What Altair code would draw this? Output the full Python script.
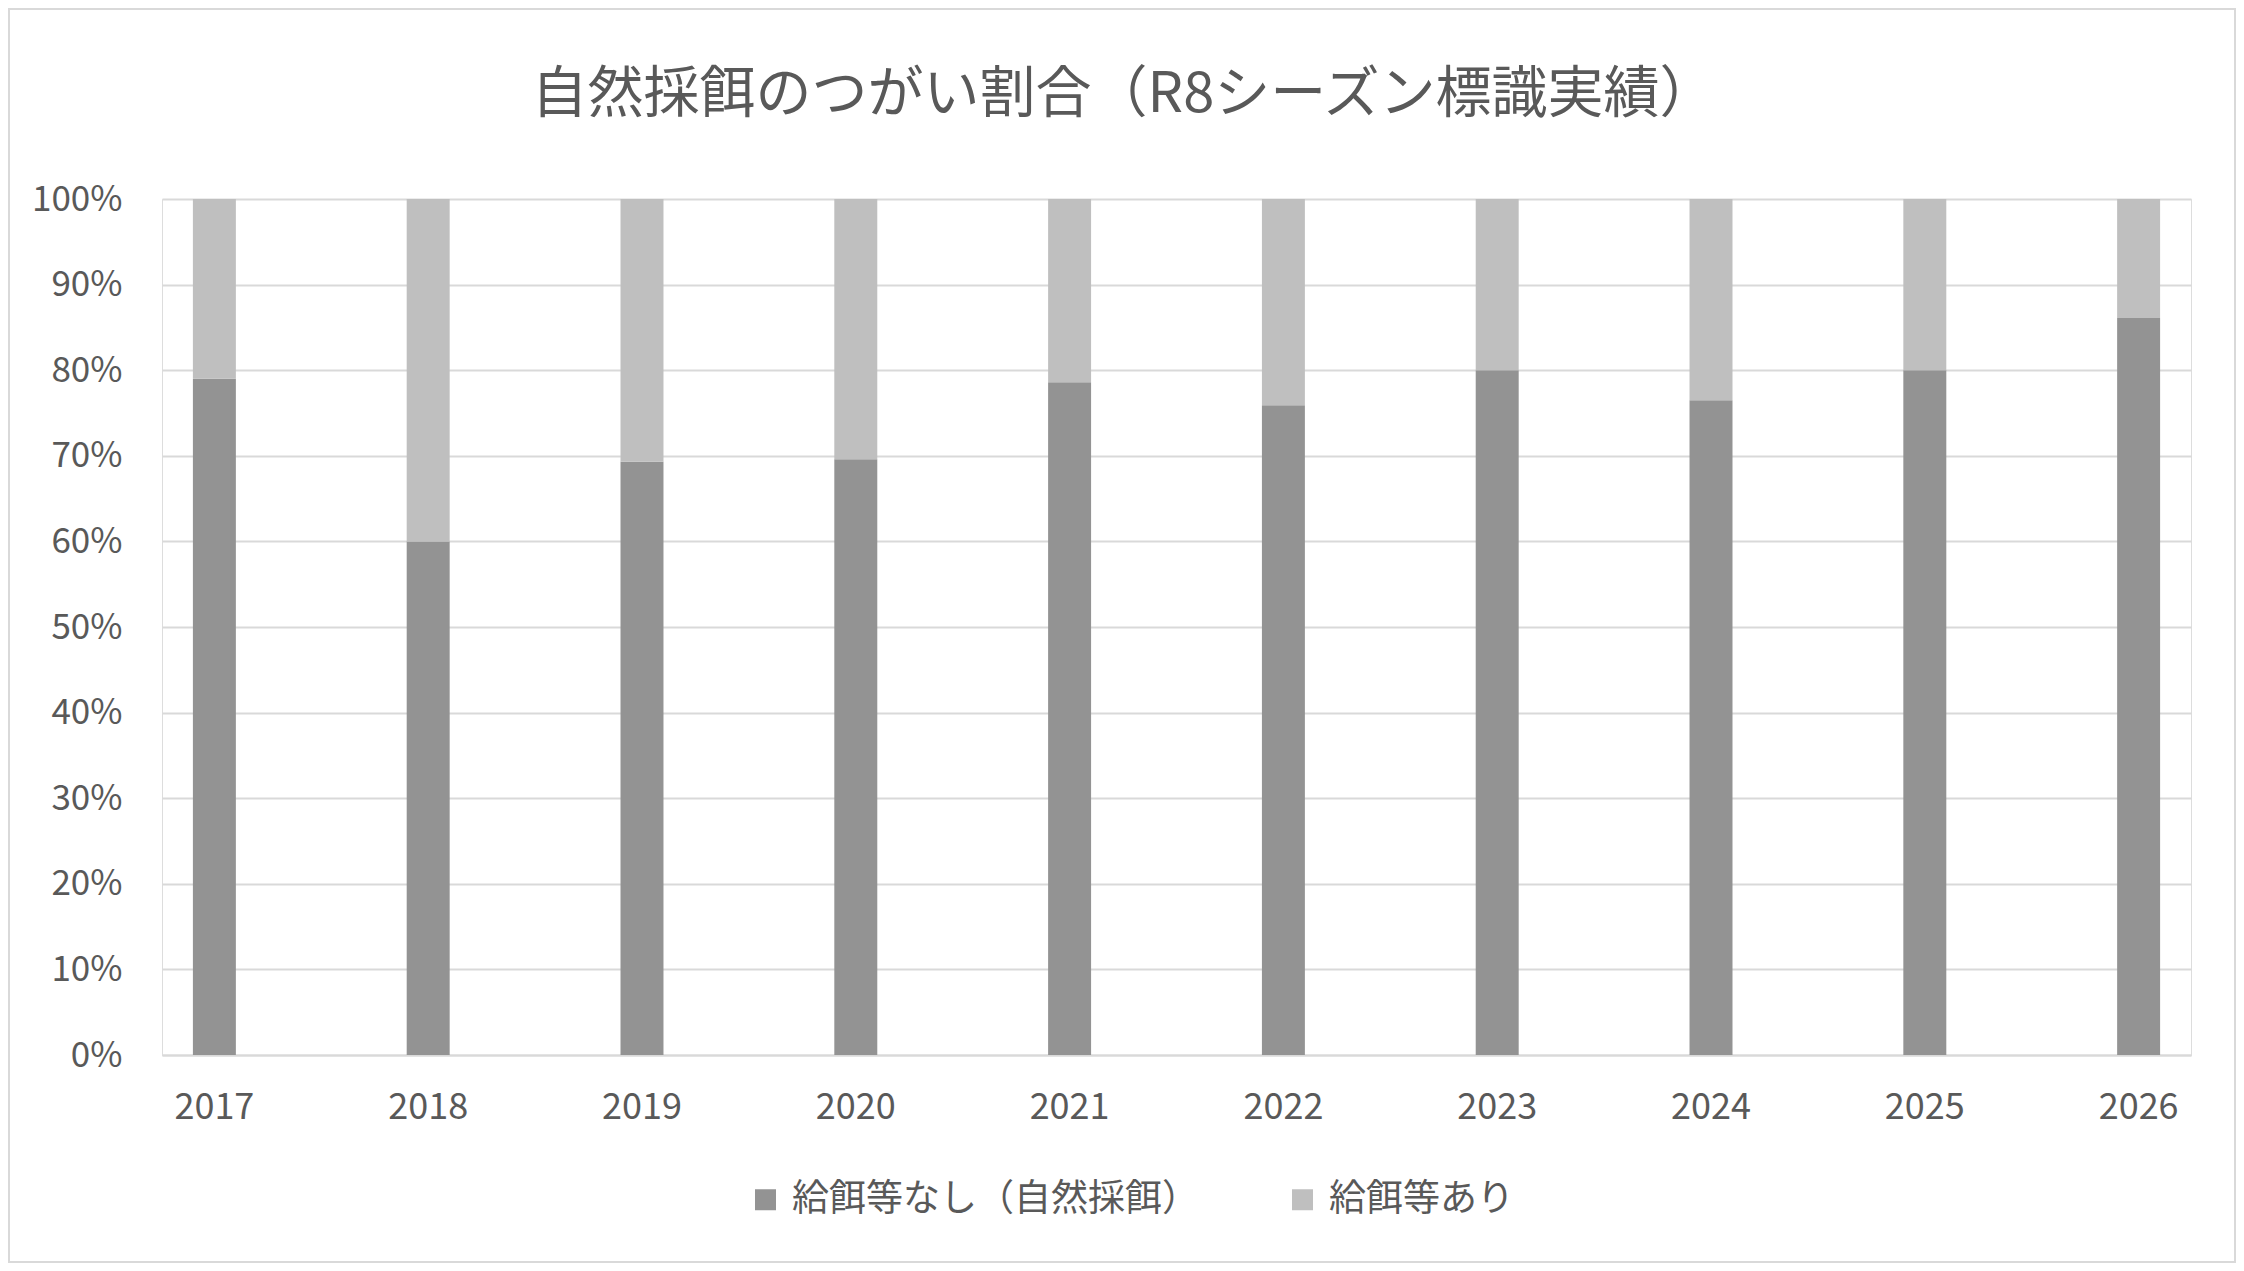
import altair as alt
import pandas as pd

years = ["2017", "2018", "2019", "2020", "2021", "2022", "2023", "2024", "2025", "2026"]
series_names = ["給餌等なし（自然採餌）", "給餌等あり"]
natural = [79.0, 60.0, 69.3, 69.6, 78.6, 75.9, 80.0, 76.5, 80.0, 86.1]
fed = [21.0, 40.0, 30.7, 30.4, 21.4, 24.1, 20.0, 23.5, 20.0, 13.9]
colors = ["#939393", "#bfbfbf"]
title_text = "自然採餌のつがい割合（R8シーズン標識実績）"

rows = []
for i, y in enumerate(years):
    rows.append({"year": y, "series": series_names[0], "value": natural[i], "ord": 0})
    rows.append({"year": y, "series": series_names[1], "value": fed[i], "ord": 1})
df = pd.DataFrame(rows)

FONT = "Noto Sans CJK JP"
TXT = "#595959"
GRID = "#d9d9d9"
W, H = 2029, 856
PL, PT, PR, PB = 154, 191, 45, 208

bars = alt.Chart(df).mark_bar().encode(
    x=alt.X("year:N", sort=years,
            scale=alt.Scale(paddingInner=0.799, paddingOuter=0.1445),
            axis=alt.Axis(title=None, labelAngle=0, ticks=False, domain=True,
                          domainColor=GRID, domainWidth=2, labelPadding=35,
                          labelFontSize=36, labelColor=TXT, labelFont=FONT, grid=False)),
    y=alt.Y("value:Q", stack="normalize",
            scale=alt.Scale(domain=[0, 1]),
            axis=alt.Axis(title=None, values=[i / 10 for i in range(11)], format=".0%",
                          ticks=False, domain=False, grid=True, gridColor=GRID, gridWidth=2,
                          labelPadding=40, labelFontSize=35, labelColor=TXT, labelFont=FONT)),
    color=alt.Color("series:N",
                    scale=alt.Scale(domain=series_names, range=colors),
                    legend=alt.Legend(title=None, orient="none", legendX=585, legendY=982,
                                      direction="horizontal", symbolType="square",
                                      symbolSize=441, symbolStrokeWidth=0,
                                      labelFontSize=37, labelColor=TXT, labelFont=FONT,
                                      labelLimit=0, labelOffset=8, columnPadding=85,
                                      padding=0)),
    order=alt.Order("ord:Q", sort="ascending"),
)

border = alt.Chart(pd.DataFrame({"k": [0]})).mark_rect(
    fill=None, stroke=GRID, strokeWidth=2, clip=False
).encode(
    x=alt.value(-PL + 1), x2=alt.value(W + PR - 1),
    y=alt.value(-PT + 1), y2=alt.value(H + PB - 1),
)

chart = alt.layer(border, bars).properties(
    width=W, height=H,
    title=alt.TitleParams(title_text, fontSize=56, color=TXT, font=FONT,
                          fontWeight="normal", anchor="middle", dx=-53, offset=-116),
    autosize=alt.AutoSizeParams(type="none"),
    padding={"left": PL, "top": PT, "right": PR, "bottom": PB},
).configure_view(strokeWidth=0, stroke="transparent").configure(background="white")

chart.save("out.html", embed_options={"renderer": "svg", "actions": False})
